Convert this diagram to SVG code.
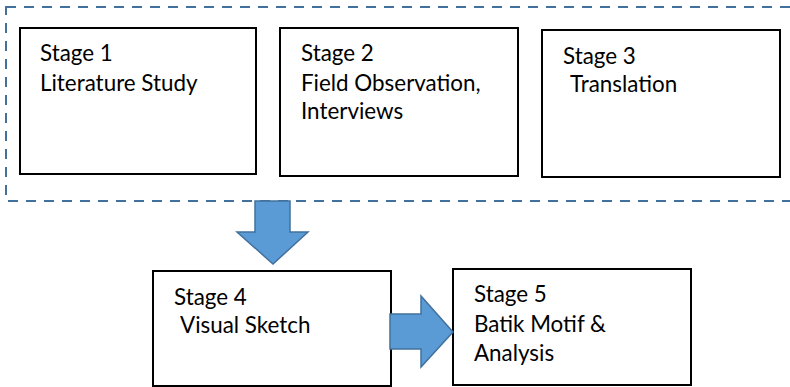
<svg xmlns="http://www.w3.org/2000/svg" width="790" height="387" viewBox="0 0 790 387">
<style>
.box{fill:#fff;stroke:#000;stroke-width:2}
.t{font-family:Lato,"Liberation Sans",sans-serif;font-size:22.4px;fill:#000}
.arrow{fill:#5B9BD5;stroke:#41719C;stroke-width:1.5}
.group{fill:none;stroke:#41719C;stroke-width:2;stroke-dasharray:10 8}
</style>
<rect width="790" height="387" fill="#fff"/>
<rect class="group" x="6" y="7" width="800" height="194"/>
<g id="stage1"><rect class="box" x="20" y="28" width="236" height="146"/><text class="t" x="40" y="61">Stage 1</text><text class="t" x="40" y="91">Literature Study</text></g>
<g id="stage2"><rect class="box" x="280" y="28" width="238" height="148"/><text class="t" x="301" y="61">Stage 2</text><text class="t" x="301" y="91">Field Observation,</text><text class="t" x="301" y="119">Interviews</text></g>
<g id="stage3"><rect class="box" x="542" y="30" width="238" height="147"/><text class="t" x="563" y="64">Stage 3</text><text class="t" x="570" y="92">Translation</text></g>
<g id="stage4"><rect class="box" x="153" y="271" width="238" height="115"/><text class="t" x="174" y="305">Stage 4</text><text class="t" x="180" y="333">Visual Sketch</text></g>
<g id="stage5"><rect class="box" x="453" y="269" width="238" height="116"/><text class="t" x="474" y="302">Stage 5</text><text class="t" x="474" y="332">Batik Motif &amp;</text><text class="t" x="474" y="361">Analysis</text></g>
<g id="connectors">
<path class="arrow" d="M255 201 H290 V232 H308 L273 264 L237 232 H255 Z"/>
<path class="arrow" d="M390 314 H421 V296 L453 332 L421 367 V349 H390 Z"/>
</g>
</svg>
